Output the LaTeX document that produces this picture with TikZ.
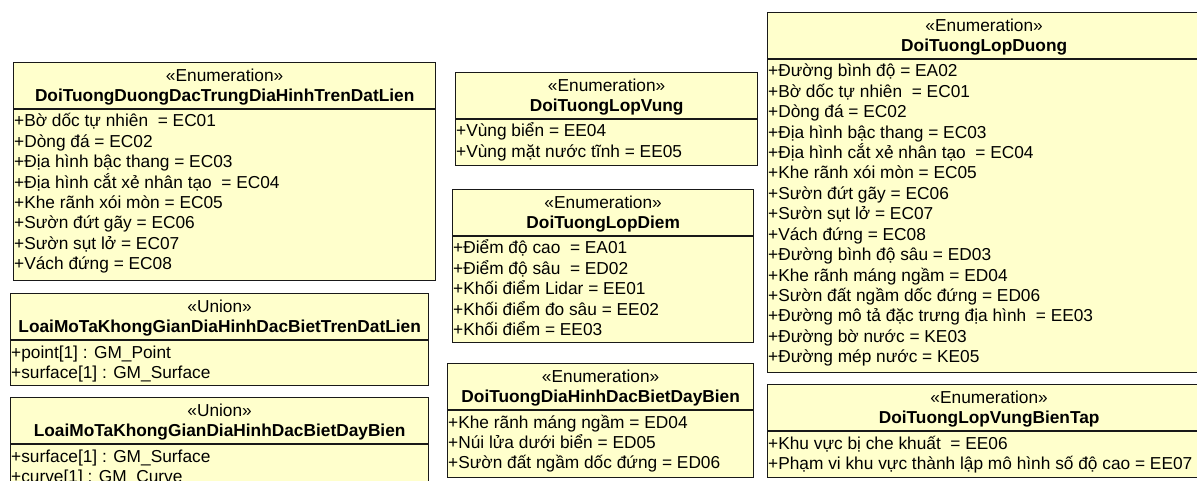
\documentclass[tikz,border=0pt]{standalone}
\usepackage{fontspec}
\setmainfont{Liberation Sans}
\usetikzlibrary{positioning}

\definecolor{umlfill}{HTML}{FFFFCC}
\newcommand{\umlfont}{\fontsize{17.3}{20.4}\selectfont}

\tikzset{
    umlbox/.style={draw=black!90, fill=umlfill, line width=1.3pt, anchor=north west, inner sep=0pt},
    umlline/.style={draw=black!90, line width=1.3pt},
    umlhead/.style={anchor=base, inner sep=0pt, font=\umlfont},
    umlrow/.style={anchor=base west, inner sep=0pt, font=\umlfont},
}

% box: name, left, top, width, height, stereotype, title, rows
\newcommand{\umlclass}[8]{%
    \node[umlbox, minimum width=#4, minimum height=#5] (#1) at (#2,#3) {};
    \node[umlhead] (#1-stereo) at ([yshift=-19.5pt]#1.north) {«#6»};
    \node[umlhead, font=\umlfont\bfseries] (#1-title) at ([yshift=-39.5pt]#1.north) {#7};
    \draw[umlline] ([yshift=-47pt]#1.north west) coordinate (#1-sep) -- ([yshift=-47pt]#1.north east);
    \foreach \row [count=\i] in {#8}
        \node[umlrow] (#1-row\i) at ([xshift=1pt, yshift={-18pt-(\i-1)*20.4pt}]#1-sep) {\row};
}

\begin{document}
\begin{tikzpicture}[x=1pt, y=-1pt]
    \useasboundingbox (0,0) rectangle (1197,481);
    \clip (0,0) rectangle (1197,481);

    % Left column
    \umlclass{duongdatlien}{13}{62}{422}{218}{Enumeration}{DoiTuongDuongDacTrungDiaHinhTrenDatLien}
        {+Bờ dốc tự nhiên~ = EC01, +Dòng đá = EC02, +Địa hình bậc thang = EC03,
         +Địa hình cắt xẻ nhân tạo~ = EC04, +Khe rãnh xói mòn = EC05, +Sườn đứt gãy = EC06,
         +Sườn sụt lở = EC07, +Vách đứng = EC08}
    \umlclass{uniondatlien}{10}{293}{418}{92}{Union}{LoaiMoTaKhongGianDiaHinhDacBietTrenDatLien}
        {+point[1] : GM\_Point, +surface[1] : GM\_Surface}
    \umlclass{uniondaybien}{10}{397}{418}{98}{Union}{LoaiMoTaKhongGianDiaHinhDacBietDayBien}
        {+surface[1] : GM\_Surface, +curve[1] : GM\_Curve}

    % Middle column
    \umlclass{lopvung}{455}{72}{302}{93}{Enumeration}{DoiTuongLopVung}
        {+Vùng biển = EE04, +Vùng mặt nước tĩnh = EE05}
    \umlclass{lopdiem}{452}{189}{301}{153}{Enumeration}{DoiTuongLopDiem}
        {+Điểm độ cao~ = EA01, +Điểm độ sâu~ = ED02, +Khối điểm Lidar = EE01,
         +Khối điểm đo sâu = EE02, +Khối điểm = EE03}
    \umlclass{daybien}{447}{363}{306}{114}{Enumeration}{DoiTuongDiaHinhDacBietDayBien}
        {+Khe rãnh máng ngầm = ED04, +Núi lửa dưới biển = ED05, +Sườn đất ngầm dốc đứng = ED06}

    % Right column
    \umlclass{lopduong}{767}{12}{433}{360}{Enumeration}{DoiTuongLopDuong}
        {+Đường bình độ = EA02, +Bờ dốc tự nhiên~ = EC01, +Dòng đá = EC02,
         +Địa hình bậc thang = EC03, +Địa hình cắt xẻ nhân tạo~ = EC04, +Khe rãnh xói mòn = EC05,
         +Sườn đứt gãy = EC06, +Sườn sụt lở = EC07, +Vách đứng = EC08,
         +Đường bình độ sâu = ED03, +Khe rãnh máng ngầm = ED04, +Sườn đất ngầm dốc đứng = ED06,
         +Đường mô tả đặc trưng địa hình~ = EE03, +Đường bờ nước = KE03, +Đường mép nước = KE05}
    \umlclass{vungbientap}{767}{384}{443}{93}{Enumeration}{DoiTuongLopVungBienTap}
        {+Khu vực bị che khuất~ = EE06, +Phạm vi khu vực thành lập mô hình số độ cao = EE07}
\end{tikzpicture}
\end{document}
